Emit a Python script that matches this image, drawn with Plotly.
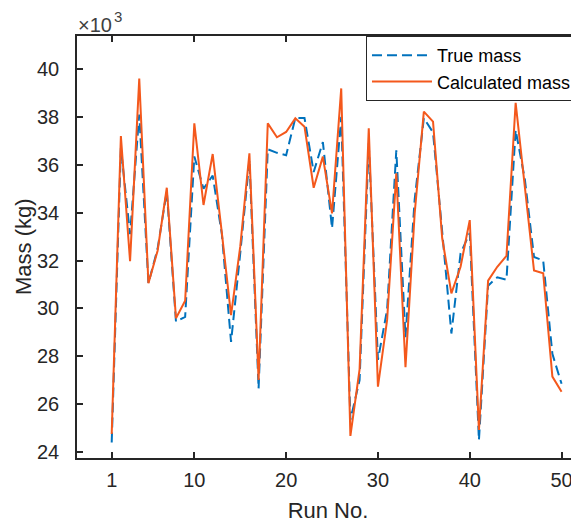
import plotly.graph_objects as go

runs = list(range(1, 51))
true_mass = [24400, 36700, 33100, 38100, 31050, 32500, 34900, 29450, 29650, 36350,
             35000, 35550, 33100, 28600, 32300, 36200, 26650, 36650, 36500, 36400,
             37950, 37950, 35700, 36950, 33350, 38000, 25350, 27000, 36900, 27850,
             29950, 36600, 28800, 34550, 37950, 37350, 33200, 28950, 32300, 33150,
             24500, 30950, 31300, 31200, 37450, 35400, 32150, 32000, 28100, 26850]
calc_mass = [24750, 37200, 31970, 39600, 31050, 32410, 35040, 29590, 30320, 37730,
             34320, 36450, 33140, 29720, 32580, 36480, 27010, 37730, 37150, 37370,
             37940, 37590, 35040, 36340, 33970, 39190, 24670, 27450, 37520, 26730,
             29520, 35640, 27540, 33970, 38220, 37800, 32930, 30630, 31740, 33690,
             24920, 31160, 31740, 32190, 38590, 35080, 31580, 31470, 27150, 26520]
x_ticks = [1, 10, 20, 30, 40, 50]
y_ticks = [24000, 26000, 28000, 30000, 32000, 34000, 36000, 38000, 40000]
y_ticklabels = ["24", "26", "28", "30", "32", "34", "36", "38", "40"]

axc = "#262626"
font = "Liberation Sans, Arial, Helvetica, sans-serif"

fig = go.Figure()
fig.add_trace(go.Scatter(x=runs, y=true_mass, mode="lines", name="True mass",
                         line=dict(color="#0072BD", width=2, dash="10px,5px")))
fig.add_trace(go.Scatter(x=runs, y=calc_mass, mode="lines", name="Calculated mass",
                         line=dict(color="#F4581C", width=2)))

# page body has an 8px default margin, so the figure is sized 8px smaller
fig.update_layout(
    width=571, height=516,
    margin=dict(l=69, r=0, t=28, b=66, autoexpand=False),
    paper_bgcolor="white", plot_bgcolor="white",
    font=dict(family=font, color=axc),
    showlegend=True,
    legend=dict(x=0.996, xanchor="right", y=1, yanchor="top",
                bgcolor="white", bordercolor="#262626", borderwidth=1,
                font=dict(size=18, color="black", family=font),
                itemwidth=60, tracegroupgap=0),
    xaxis=dict(range=[-2.78, 51.9], tickvals=x_ticks, ticks="inside", ticklen=6,
               tickwidth=1.5, tickcolor=axc, showline=True, linecolor=axc, linewidth=1.5,
               mirror="ticks", showgrid=False, zeroline=False, automargin=False,
               tickfont=dict(size=20, color=axc, family=font), ticklabelstandoff=3,
               title=dict(text="Run No.", font=dict(size=22, color=axc, family=font), standoff=13)),
    yaxis=dict(range=[23750, 41380], tickvals=y_ticks, ticktext=y_ticklabels, ticks="inside",
               ticklen=6, tickwidth=1.5, tickcolor=axc, showline=True, linecolor=axc,
               linewidth=1.5, mirror="ticks", showgrid=False, zeroline=False, automargin=False,
               tickfont=dict(size=20, color=axc, family=font), ticklabelstandoff=12),
)
fig.add_annotation(text="Mass (kg)", xref="paper", yref="paper", x=0, y=0.5,
                   xanchor="center", yanchor="middle", xshift=-54, textangle=-90,
                   showarrow=False, font=dict(size=22, color=axc, family=font))
fig.add_annotation(text="×10", xref="paper", yref="paper", x=0, y=1,
                   xanchor="left", yanchor="bottom", yshift=-2, xshift=-1, showarrow=False,
                   font=dict(size=20, color="#404040", family=font))
fig.add_annotation(text="3", xref="paper", yref="paper", x=0, y=1,
                   xanchor="left", yanchor="bottom", yshift=9, xshift=35, showarrow=False,
                   font=dict(size=15, color="#404040", family=font))

fig.write_html("out.html")
